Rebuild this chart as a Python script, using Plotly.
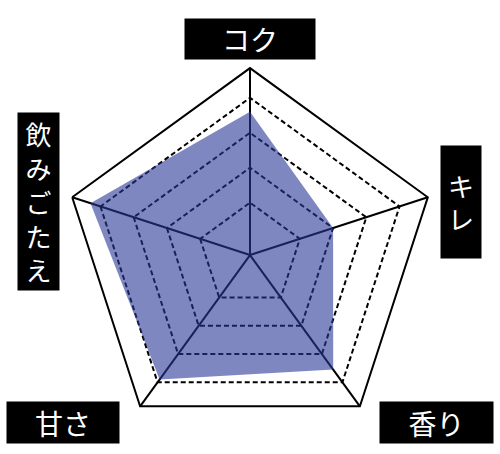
import plotly.graph_objects as go

# radar axes (clockwise from top) and the score for each
axes = ["コク", "キレ", "香り", "甘さ", "飲みごたえ"]
scores = [4.1, 2.5, 4.05, 4.4, 4.8]

# dashed guide levels and the outer edge of the scale
grid_levels = [1.5, 2.5, 3.5, 4.5]
scale_max = 5.35

FONT = "Noto Sans CJK JP"

fig = go.Figure()

fig.add_trace(go.Scatterpolar(
    r=scores + scores[:1],
    theta=axes + axes[:1],
    fill="toself",
    fillcolor="rgba(40,55,150,0.6)",
    line=dict(width=0, color="rgba(0,0,0,0)"),
    mode="lines",
    hoverinfo="skip",
    showlegend=False,
))

fig.update_layout(
    width=500,
    height=454,
    margin=dict(l=0, r=0, t=0, b=0),
    paper_bgcolor="white",
    plot_bgcolor="white",
    polar=dict(
        domain=dict(x=[0.126, 0.874], y=[0.0264, 0.850]),
        bgcolor="rgba(0,0,0,0)",
        gridshape="linear",
        angularaxis=dict(
            rotation=90,
            direction="clockwise",
            showticklabels=False,
            ticks="",
            showline=True,
            linecolor="black",
            linewidth=2,
            showgrid=True,
            gridcolor="black",
            gridwidth=1.7,
        ),
        radialaxis=dict(
            range=[0, scale_max],
            tickvals=grid_levels,
            showticklabels=False,
            ticks="",
            showline=False,
            showgrid=True,
            gridcolor="black",
            gridwidth=1.5,
            griddash="5px,3px",
        ),
    ),
)

# black label boxes with white text
labels = [
    ("コク", 0.5, 0.914, 130, 40),
    ("キ<br>レ", 0.922, 0.555, 40, 112),
    ("香り", 0.873, 0.069, 113, 41),
    ("甘さ", 0.126, 0.069, 112, 41),
    ("飲<br>み<br>ご<br>た<br>え", 0.077, 0.556, 41, 177),
]
for text, x, y, w, h in labels:
    fig.add_annotation(
        text=text, x=x, y=y, xref="paper", yref="paper",
        xanchor="center", yanchor="middle",
        showarrow=False, width=w, height=h,
        bgcolor="black", borderpad=0,
        align="center", valign="middle",
        font=dict(family=FONT, size=28 if "<br>" not in text else 26, color="white"),
    )

# drop the page's default body margin so the figure sits at the window corner
fig.write_html("out.html", config={"displayModeBar": False},
               post_script="document.body.style.margin='0';")
